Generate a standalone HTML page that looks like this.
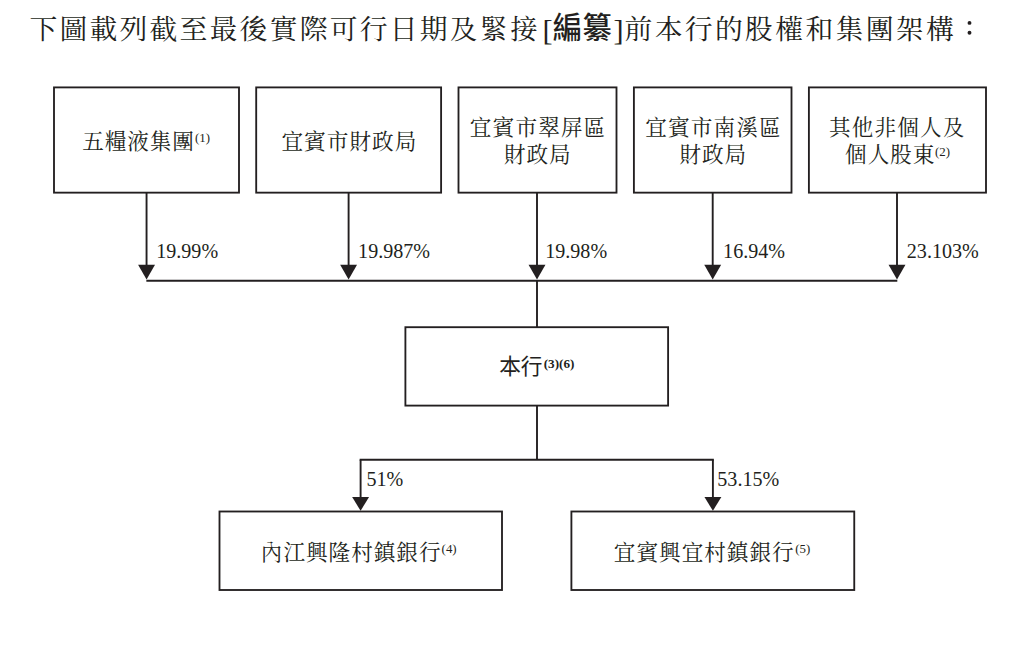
<!DOCTYPE html>
<html lang="zh-Hant"><head><meta charset="utf-8"><title>股權和集團架構</title>
<style>
html,body{margin:0;padding:0;background:#fff;}
body{width:1018px;height:650px;overflow:hidden;font-family:"Liberation Serif",serif;}
svg{display:block;}
svg text{font-family:"Liberation Serif","Noto Serif CJK SC",serif;fill:#231f20;}
svg text.sans{font-family:"Liberation Sans","Noto Sans CJK TC",sans-serif;}
</style></head><body>
<svg role="img" width="1018" height="650" viewBox="0 0 1018 650">
<title>股權和集團架構</title>
<desc>下圖載列截至最後實際可行日期及緊接[編纂]前本行的股權和集團架構：五糧液集團(1) 19.99%；宜賓市財政局 19.987%；宜賓市翠屏區財政局 19.98%；宜賓市南溪區財政局 16.94%；其他非個人及個人股東(2) 23.103%；本行(3)(6)；內江興隆村鎮銀行(4) 51%；宜賓興宜村鎮銀行(5) 53.15%</desc>
<rect width="1018" height="650" fill="#fff"/>
<g fill="none" stroke="#231f20" stroke-width="1.85" stroke-linecap="butt" stroke-linejoin="miter">
<rect x="54" y="87.4" width="185.00" height="105.25"/>
<rect x="256.2" y="87.4" width="184.90" height="105.25"/>
<rect x="458.5" y="87.4" width="158.00" height="105.25"/>
<rect x="633.9" y="87.4" width="157.60" height="105.25"/>
<rect x="808.9" y="87.4" width="177.10" height="105.25"/>
<path d="M146.55 192.65L146.55 270" stroke-width="1.9"/>
<path d="M348.6 192.65L348.6 270" stroke-width="1.9"/>
<path d="M537.0 192.65L537.0 270" stroke-width="1.9"/>
<path d="M712.7 192.65L712.7 270" stroke-width="1.9"/>
<path d="M897.0 192.65L897.0 270" stroke-width="1.9"/>
<path d="M146.35000000000002 280.7L897.3 280.7" stroke-width="1.9"/>
<path d="M537 280.7L537 327.2" stroke-width="1.9"/>
<rect x="405.4" y="327.2" width="262.70" height="78.40"/>
<path d="M537 405.6L537 459.8" stroke-width="1.9"/>
<path d="M359.65000000000003 459.8L713.85 459.8" stroke-width="1.9"/>
<path d="M360.6 459.8L360.6 500" stroke-width="1.9"/>
<path d="M712.9 459.8L712.9 500" stroke-width="1.9"/>
<rect x="219.5" y="511.5" width="282.50" height="78.50"/>
<rect x="571.4" y="511.5" width="282.85" height="78.50"/>
</g>
<g fill="#231f20" stroke="none">
<path d="M138.10 264.8L155.00 264.8L146.55 279.4Z"/>
<path d="M340.15 264.8L357.05 264.8L348.6 279.4Z"/>
<path d="M528.55 264.8L545.45 264.8L537.0 279.4Z"/>
<path d="M704.25 264.8L721.15 264.8L712.7 279.4Z"/>
<path d="M888.55 264.8L905.45 264.8L897.0 279.4Z"/>
<path d="M352.15 497.0L369.05 497.0L360.6 510.8Z"/>
<path d="M704.45 497.0L721.35 497.0L712.9 510.8Z"/>
</g>
<g fill="#231f20" stroke="none">
<text x="29.4" y="38.7" font-size="27.8" textLength="508.3" lengthAdjust="spacing">下圖載列截至最後實際可行日期及緊接</text>
<text x="542.5" y="39.5" font-size="30.3">[</text>
<text class="sans" x="552.8" y="37.5" font-size="29.3" font-weight="500" textLength="58.9" lengthAdjust="spacing">編纂</text>
<text x="613.5" y="39.5" font-size="30.3">]</text>
<text x="624.5" y="38.7" font-size="27.8" textLength="329.3" lengthAdjust="spacing">前本行的股權和集團架構</text>
<circle cx="969.5" cy="22.9" r="1.95"/><circle cx="969.5" cy="32.8" r="1.95"/>
<text x="82.2" y="148.8" font-size="21.6" textLength="111.6" lengthAdjust="spacing">五糧液集團</text>
<text x="195.0" y="141.7" font-size="12.9">(1)</text>
<text x="281.4" y="148.8" font-size="21.6" textLength="135.0" lengthAdjust="spacing">宜賓市財政局</text>
<text x="469.8" y="135.3" font-size="21.6" textLength="135.6" lengthAdjust="spacing">宜賓市翠屏區</text>
<text x="504.1" y="162.2" font-size="21.6" textLength="66.6" lengthAdjust="spacing">財政局</text>
<text x="645.2" y="135.3" font-size="21.6" textLength="135.6" lengthAdjust="spacing">宜賓市南溪區</text>
<text x="679.6" y="162.2" font-size="21.6" textLength="66.6" lengthAdjust="spacing">財政局</text>
<text x="829.0" y="135.3" font-size="21.6" textLength="135.5" lengthAdjust="spacing">其他非個人及</text>
<text x="845.1" y="162.2" font-size="21.6" textLength="89.3" lengthAdjust="spacing">個人股東</text>
<text x="934.9" y="155.8" font-size="12.9">(2)</text>
<text class="sans" x="499.3" y="374.3" font-size="21.7" textLength="43.2" lengthAdjust="spacing">本行</text>
<text x="543.7" y="367.6" font-size="13.2" font-weight="bold">(3)(6)</text>
<text x="260.8" y="560.1" font-size="21.6" textLength="179.7" lengthAdjust="spacing">內江興隆村鎮銀行</text>
<text x="441.6" y="553.0" font-size="12.9">(4)</text>
<text x="613.8" y="560.1" font-size="21.6" textLength="179.9" lengthAdjust="spacing">宜賓興宜村鎮銀行</text>
<text x="795.3" y="553.0" font-size="12.9">(5)</text>
<text x="156.2" y="257.9" font-size="20.1">19.99%</text>
<text x="358.1" y="257.9" font-size="20.1">19.987%</text>
<text x="545.2" y="257.9" font-size="20.1">19.98%</text>
<text x="723.1" y="257.9" font-size="20.1">16.94%</text>
<text x="906.8" y="257.9" font-size="20.1">23.103%</text>
<text x="366.5" y="486.1" font-size="20.1">51%</text>
<text x="717.3" y="486.1" font-size="20.1">53.15%</text>
</g>
</svg>
</body></html>
